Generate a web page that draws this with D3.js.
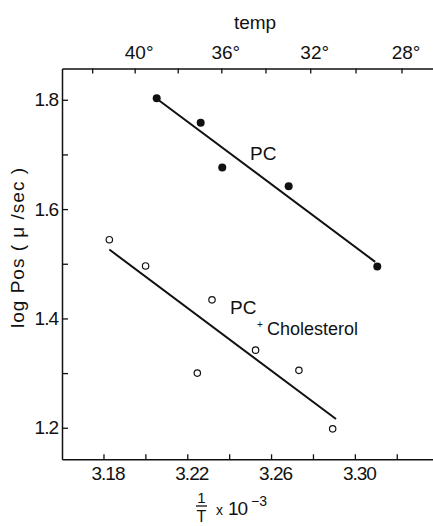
<!DOCTYPE html>
<html>
<head>
<meta charset="utf-8">
<script src="https://cdn.jsdelivr.net/npm/d3@7"></script>
<style>
  html, body { margin: 0; padding: 0; background: #fff; }
  svg { display: block; font-family: "Liberation Sans", Arial, sans-serif; }
  .axis path, .axis line { stroke: #111; }
  .axis text { fill: #111; font-family: "Liberation Sans", Arial, sans-serif; }
</style>
</head>
<body>
<script>
// ---- data ----
const pcX = [3.2054, 3.2264, 3.2367, 3.2684, 3.3107];
const pcY = [1.803, 1.758, 1.676, 1.642, 1.495];
const pcLineX = [3.2056, 3.3097];
const pcLineY = [1.8015, 1.5035];

const cholX = [3.1828, 3.2001, 3.2318, 3.2248, 3.2526, 3.2733, 3.2894];
const cholY = [1.544, 1.496, 1.434, 1.300, 1.342, 1.305, 1.198];
const cholLineX = [3.1828, 3.2910];
const cholLineY = [1.526, 1.216];

const xTicks = [3.18, 3.20, 3.22, 3.24, 3.26, 3.28, 3.30, 3.32];
const xTickLabels = ["3.18", "", "3.22", "", "3.26", "", "3.30", ""];
const yTicks = [1.2, 1.3, 1.4, 1.5, 1.6, 1.7, 1.8];
const yTickLabels = ["1.2", "", "1.4", "", "1.6", "", "1.8"];
const tempTicks = [42, 40, 38, 36, 34, 32, 30, 28];
const tempTickLabels = ["", "40°", "", "36°", "", "32°", "", "28°"];

// ---- chart ----
const W = 433, H = 526;
const svg = d3.select("body").append("svg").attr("width", W).attr("height", H);

const x = d3.scaleLinear().domain([3.1602, 3.3373]).range([62, 433]);
const y = d3.scaleLinear().domain([1.1423, 1.8572]).range([459.3, 68.5]);
const invT = t => 1000 / (t + 273);

const fs = 18;

// left axis
const gy = svg.append("g").attr("class", "axis").attr("transform", `translate(${x.range()[0]},0)`)
  .call(d3.axisLeft(y).tickValues(yTicks).tickSizeInner(-6).tickSizeOuter(0).tickPadding(4)
    .tickFormat((d, i) => yTickLabels[i]));
gy.selectAll("text").style("font-size", "19px").attr("letter-spacing", "-1");

// bottom axis
const gx = svg.append("g").attr("class", "axis").attr("transform", `translate(0,${y.range()[0]})`)
  .call(d3.axisBottom(x).tickValues(xTicks).tickSizeInner(-5).tickSizeOuter(0).tickPadding(7)
    .tickFormat((d, i) => xTickLabels[i]));
gx.selectAll("text").style("font-size", "19px").attr("letter-spacing", "-1").attr("dx", 4);

// top axis (temperature, °C -> 1/T)
const gt = svg.append("g").attr("class", "axis").attr("transform", `translate(0,${y.range()[1]})`)
  .call(d3.axisTop(x).tickValues(tempTicks.map(invT)).tickSizeInner(-5).tickSizeOuter(0).tickPadding(10)
    .tickFormat((d, i) => tempTickLabels[i]));
gt.selectAll("text").style("font-size", "19px").attr("dx", 4);

svg.selectAll(".axis path").attr("stroke-width", 1.5);
svg.selectAll(".axis line").attr("stroke-width", 1.3);

// axis titles
svg.append("text").attr("x", 255).attr("y", 29).attr("text-anchor", "middle")
  .style("font-size", "19px").attr("fill", "#111").text("temp");

svg.append("text").attr("transform", "translate(24,248) rotate(-90)").attr("text-anchor", "middle")
  .style("font-size", "19px").attr("fill", "#111")
  .attr("textLength", 160).attr("lengthAdjust", "spacing").text("log  Pos ( μ /sec )");

const xl = svg.append("g").attr("fill", "#111");
xl.append("text").attr("x", 201.5).attr("y", 503).attr("text-anchor", "middle").style("font-size", "15px").text("1");
xl.append("line").attr("x1", 196).attr("x2", 207).attr("y1", 506).attr("y2", 506).attr("stroke", "#111").attr("stroke-width", 1.3);
xl.append("text").attr("x", 201.5).attr("y", 522).attr("text-anchor", "middle").style("font-size", "16px").text("T");
xl.append("text").attr("x", 216).attr("y", 515).style("font-size", "14px").text("x");
xl.append("text").attr("x", 228).attr("y", 515).style("font-size", "19px").attr("letter-spacing", "-1").text("10");
xl.append("text").attr("x", 251).attr("y", 506).style("font-size", "14px").text("−3");

// fit lines
const line = d3.line().x(d => x(d[0])).y(d => y(d[1]));
svg.append("path").datum(d3.zip(pcLineX, pcLineY)).attr("d", line)
  .attr("fill", "none").attr("stroke", "#111").attr("stroke-width", 2);
svg.append("path").datum(d3.zip(cholLineX, cholLineY)).attr("d", line)
  .attr("fill", "none").attr("stroke", "#111").attr("stroke-width", 2);

// points
svg.append("g").selectAll("circle").data(d3.zip(pcX, pcY)).join("circle")
  .attr("cx", d => x(d[0])).attr("cy", d => y(d[1])).attr("r", 4).attr("fill", "#111");
svg.append("g").selectAll("circle").data(d3.zip(cholX, cholY)).join("circle")
  .attr("cx", d => x(d[0])).attr("cy", d => y(d[1])).attr("r", 3.2)
  .attr("fill", "#fff").attr("stroke", "#111").attr("stroke-width", 1.2);

// series labels
svg.append("text").attr("x", 250).attr("y", 160).style("font-size", "19px").attr("fill", "#111").text("PC");
svg.append("text").attr("x", 230).attr("y", 313.5).style("font-size", "19px").attr("fill", "#111").text("PC");
svg.append("text").attr("x", 260).attr("y", 328).attr("text-anchor", "middle").style("font-size", "10px").attr("fill", "#111").text("+");
svg.append("text").attr("x", 267).attr("y", 335).style("font-size", fs + "px").attr("fill", "#111").text("Cholesterol");
</script>
</body>
</html>
